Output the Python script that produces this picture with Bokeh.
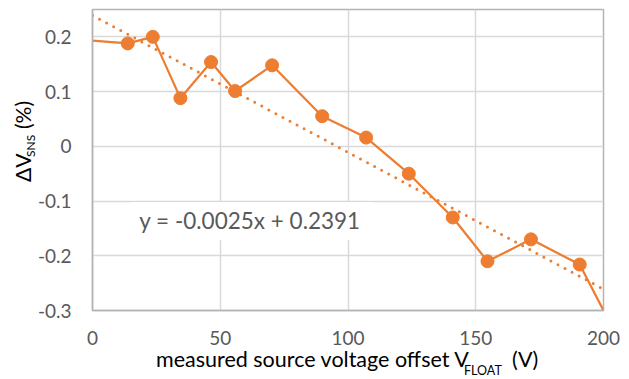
from bokeh.plotting import figure
from bokeh.models import Label, FixedTicker, CustomJSTickFormatter, ColumnDataSource, Div
from bokeh.layouts import row, column
from bokeh.embed import file_html
from bokeh.resources import INLINE

# ---- data ----
x_vals = [0, 13.8, 23.6, 34.4, 46.4, 55.8, 70.3, 89.9, 107.1, 123.8, 141.0, 154.6, 171.6, 190.7, 200]
y_vals = [0.193, 0.188, 0.200, 0.088, 0.154, 0.101, 0.148, 0.055, 0.016, -0.050, -0.130, -0.210, -0.170, -0.216, -0.300]
trend_slope = -0.0025
trend_intercept = 0.2391
trend_x = [0, 200]
x_ticks = [0, 50, 100, 150, 200]
y_ticks = [-0.3, -0.2, -0.1, 0, 0.1, 0.2]
equation_text = "y = -0.0025x + 0.2391"
x_title_main, x_title_sub, x_title_unit = "measured source voltage offset V", "FLOAT", "(V)"
y_title_main, y_title_sub, y_title_unit = "\u0394V", "SNS", "(%)"

ORANGE = "#ED7D31"
FONT = "Lato"

X0, X1 = 0, 200
Y0, Y1 = -0.3, 0.25

YDIV_W = 30
FIG_H = 356

p = figure(width=629 - YDIV_W, height=FIG_H, x_range=(X0, X1), y_range=(Y0, Y1),
           output_backend="svg", toolbar_location=None,
           min_border_left=92 - YDIV_W, min_border_right=26, min_border_top=9, min_border_bottom=FIG_H - 310)
p.background_fill_color = "white"
p.border_fill_color = None
p.outline_line_color = "#b4b4b4"
p.outline_line_width = 1.5

# grid
p.xgrid.ticker = FixedTicker(ticks=x_ticks)
p.ygrid.ticker = FixedTicker(ticks=y_ticks)
for g in (p.xgrid, p.ygrid):
    g.grid_line_color = "#d9d9d9"
    g.grid_line_width = 1.5

# axes
p.xaxis.ticker = FixedTicker(ticks=x_ticks)
p.yaxis.ticker = FixedTicker(ticks=y_ticks)
p.yaxis.formatter = CustomJSTickFormatter(code="return (Math.round(tick*10)/10).toString();")
for ax in (p.xaxis, p.yaxis):
    ax.axis_line_color = "#b4b4b4"
    ax.axis_line_width = 1.5
    ax.major_tick_line_color = None
    ax.minor_tick_line_color = None
    ax.major_tick_out = 0
    ax.major_tick_in = 0
    ax.major_label_text_font = FONT
    ax.major_label_text_font_size = "19px"
    ax.major_label_text_color = "#595959"
p.yaxis.major_label_standoff = 21
p.xaxis.major_label_standoff = 20

# series
src = ColumnDataSource(dict(x=x_vals, y=y_vals))
p.line("x", "y", source=src, line_color=ORANGE, line_width=2.25)
mx = [x for x in x_vals if X0 < x < X1]
my = [y for x, y in zip(x_vals, y_vals) if X0 < x < X1]
p.scatter(mx, my, size=13, fill_color=ORANGE, line_color=ORANGE, marker="circle")

# trendline
trend_y = [trend_slope * x + trend_intercept for x in trend_x]
p.line(trend_x, trend_y, line_color=ORANGE, line_width=3, line_dash="0 8", line_cap="round")

# equation label
eq_x = X0 + (251.5 - 92) / 2.555
eq_y = 0.2 - (220 - 36) / 547.0
p.add_layout(Label(x=eq_x, y=eq_y, text=equation_text, text_align="center", text_baseline="middle",
                   text_font=FONT, text_font_size="22.5px", text_color="#595959",
                   background_fill_color="white", padding=(8, 12, 5, 6)))

# axis titles with subscripts (HTML pieces)
BASE = "position:absolute;white-space:nowrap;font-family:Lato;color:#000;"


def hpiece(text, left, top, size):
    return f'<span style="{BASE}left:{left}px;top:{top}px;font-size:{size}px;line-height:{size}px;">{text}</span>'


def vpiece(text, left, top, size):
    return (f'<span style="{BASE}left:{left}px;top:{top}px;font-size:{size}px;line-height:{size}px;'
            f'transform:rotate(-90deg);transform-origin:0 0;">{text}</span>')


ydiv_html = (
    f'<div style="position:relative;width:{YDIV_W}px;height:{FIG_H}px;overflow:visible;">'
    + vpiece(y_title_main, 12.4, 182, 21)
    + vpiece(y_title_sub, 24.5, 157, 12)
    + vpiece(y_title_unit, 12.4, 129, 21)
    + '</div>'
)
ydiv = Div(text=ydiv_html, width=YDIV_W, height=FIG_H, margin=(0, 0, 0, 0),
           styles={"overflow": "visible", "z-index": "2"})

xdiv_html = (
    f'<div style="position:relative;width:629px;height:{379 - FIG_H}px;overflow:visible;">'
    + hpiece(x_title_main, 156, -7, 21.5)
    + hpiece(x_title_sub, 464, 9.4, 12.5)
    + hpiece(x_title_unit, 512, -7, 21.5)
    + '</div>'
)
xdiv = Div(text=xdiv_html, width=629, height=379 - FIG_H, margin=(0, 0, 0, 0),
           styles={"overflow": "visible", "z-index": "2"})

layout = column(row(ydiv, p, spacing=0), xdiv, spacing=0)

open("out.html", "w").write(file_html(layout, INLINE))
